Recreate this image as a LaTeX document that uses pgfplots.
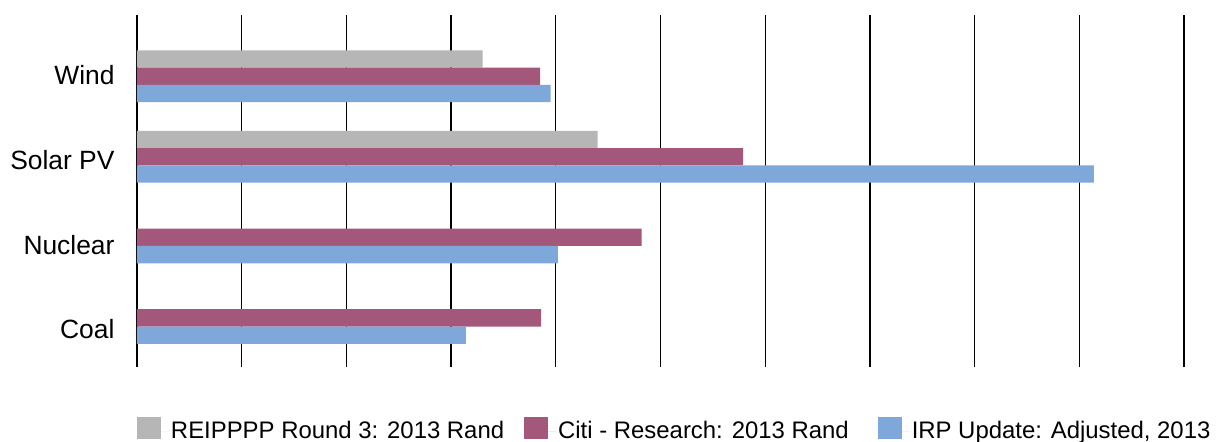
\documentclass[border=0pt]{standalone}
\usepackage{pgfplots}
\pgfplotsset{compat=1.18}
\usepackage{fontspec}
\setmainfont{Liberation Sans}
\definecolor{cgray}{HTML}{B5B6B5}
\definecolor{cpurple}{HTML}{A3577A}
\definecolor{cblue}{HTML}{7EA8D9}
\begin{document}
\begin{tikzpicture}
\begin{axis}[
  scale only axis,
  width=1047bp, height=352bp,
  xmin=0, xmax=10,
  ymin=-0.61, ymax=3.76,
  xbar, bar width=17.3bp,
  xtick={0,1,...,10},
  xticklabels={},
  ytick={-0.138,0.905,1.960,3.015},
  yticklabels={Coal,Nuclear,Solar PV,Wind},
  yticklabel style={font=\fontsize{26.5}{30}\selectfont, xshift=-19bp},
  xmajorgrids,
  grid style={black, line width=1.3bp},
  axis line style={draw=none},
  major tick length=0pt,
  tick style={draw=none},
  legend columns=3,
  legend style={at={(0,0)}, anchor=north west, yshift=-50bp, xshift=0bp,
    draw=none, fill=none, inner sep=0pt, outer sep=0pt,
    font=\fontsize{24}{28}\selectfont,
    /tikz/column 2/.style={column sep=18bp},
    /tikz/column 4/.style={column sep=27bp}},
  legend cell align=left,
  legend image code/.code={\fill[#1] (0bp,-8bp) rectangle (24bp,14bp); \path (0bp,0bp) -- (32bp,0bp);},
]
\addplot[fill=cgray, draw=none, bar shift=17.3bp] coordinates {(3.30,3) (4.40,2)};
\addplot[fill=cpurple, draw=none, bar shift=0bp] coordinates {(3.85,3) (5.79,2) (4.82,1) (3.86,0)};
\addplot[fill=cblue, draw=none, bar shift=-17.3bp] coordinates {(3.95,3) (9.14,2) (4.02,1) (3.14,0)};
\legend{REIPPPP Round 3: 2013 Rand, Citi - Research: 2013 Rand, {IRP Update: Adjusted, 2013}}
\coordinate (bl) at (rel axis cs:0,0);
\coordinate (tr) at (rel axis cs:1,1);
\end{axis}
\pgfresetboundingbox
\path ([shift={(-137bp,-74bp)}]bl) rectangle ([shift={(32bp,15bp)}]tr);
\end{tikzpicture}
\end{document}
